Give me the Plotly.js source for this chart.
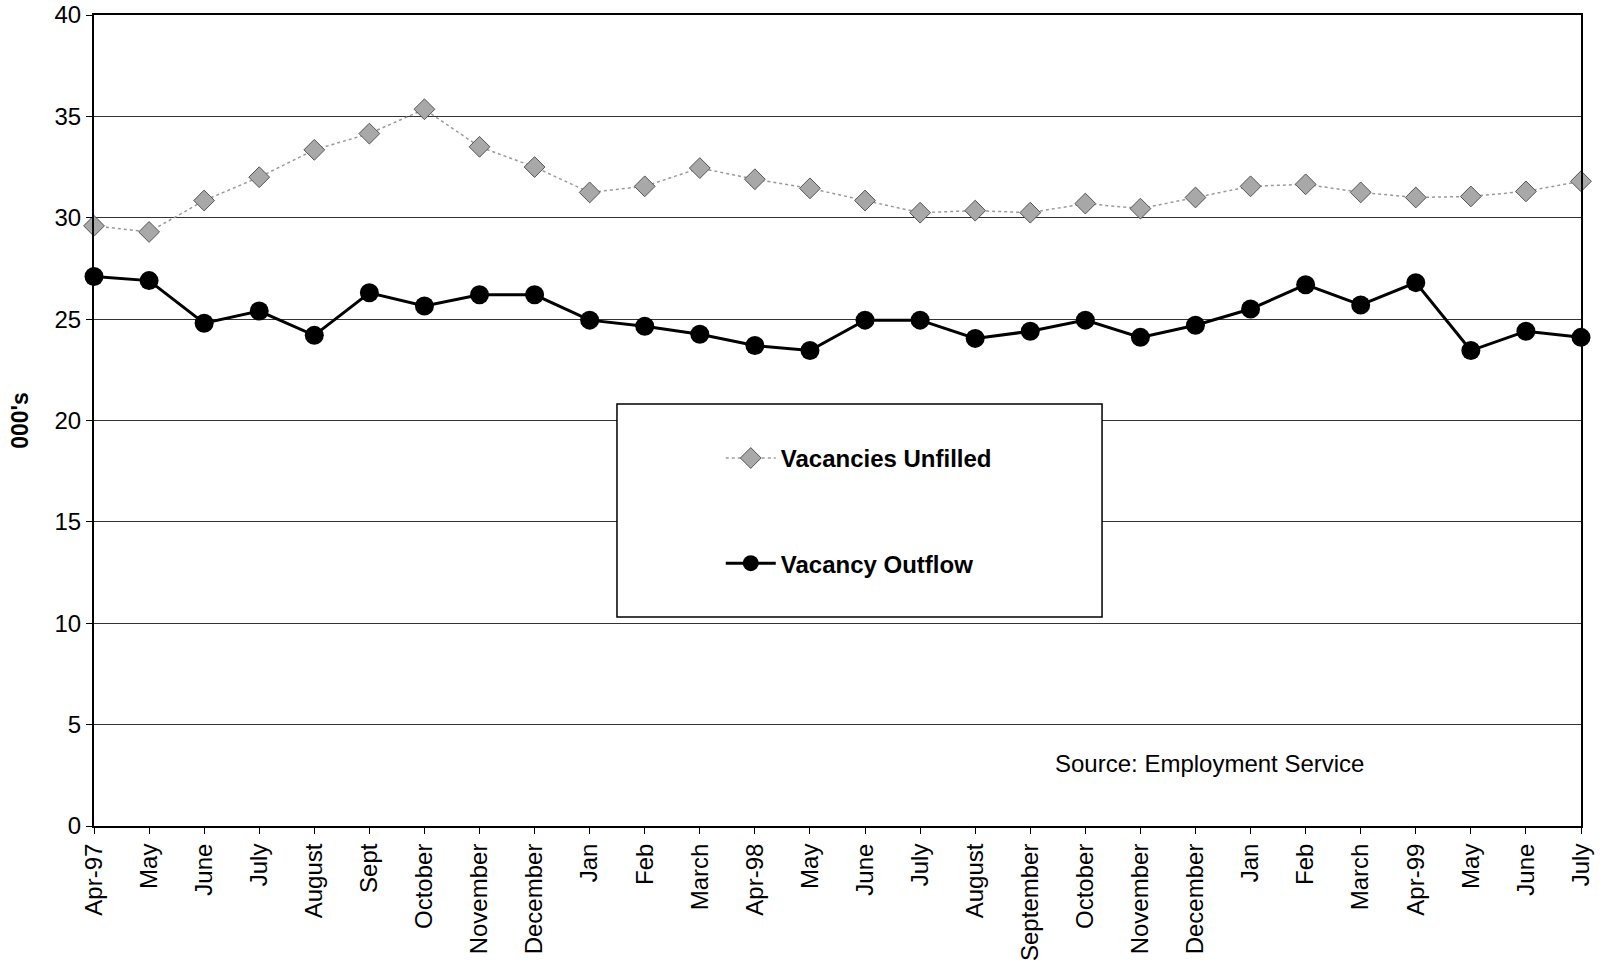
<!DOCTYPE html>
<html>
<head>
<meta charset="utf-8">
<script src="https://cdn.plot.ly/plotly-3.0.1.min.js"></script>
<style>
  html, body { margin: 0; padding: 0; background: #fff; }
  #chart { width: 1608px; height: 967px; }
</style>
</head>
<body>
<div id="chart"></div>
<script>
// Month labels (x axis), in order
const monthLabels = ["Apr-97","May","June","July","August","Sept","October","November","December",
  "Jan","Feb","March","Apr-98","May","June","July","August","September","October","November",
  "December","Jan","Feb","March","Apr-99","May","June","July"];

// Vacancies unfilled (000's)
const vacanciesUnfilled = [29.6, 29.3, 30.85, 32.0, 33.35, 34.15, 35.35, 33.5, 32.5, 31.25,
  31.55, 32.45, 31.9, 31.45, 30.85, 30.25, 30.35, 30.25, 30.7, 30.45,
  31.0, 31.55, 31.65, 31.25, 31.0, 31.05, 31.3, 31.8];

// Vacancy outflow (000's)
const vacancyOutflow = [27.1, 26.9, 24.8, 25.4, 24.2, 26.3, 25.65, 26.2, 26.2, 24.95,
  24.65, 24.25, 23.7, 23.45, 24.95, 24.95, 24.05, 24.4, 24.95, 24.1,
  24.7, 25.5, 26.7, 25.7, 26.8, 23.45, 24.4, 24.1];

const yTicks = [0, 5, 10, 15, 20, 25, 30, 35, 40];

const xIdx = monthLabels.map((_, i) => i);
const FONT = "Liberation Sans, Arial, sans-serif";

const traces = [
  {
    x: xIdx, y: vacanciesUnfilled, name: "Vacancies Unfilled",
    type: "scatter", mode: "lines+markers", cliponaxis: false,
    legendgroup: "a",
    line: { color: "#9a9a9a", width: 1.5, dash: "dot" },
    marker: { symbol: "diamond", size: 16, color: "#a8a8a8", line: { color: "#555", width: 1 } }
  },
  {
    x: xIdx, y: vacancyOutflow, name: "Vacancy Outflow",
    type: "scatter", mode: "lines+markers", cliponaxis: false,
    legendgroup: "b",
    line: { color: "#000", width: 3 },
    marker: { symbol: "circle", size: 19, color: "#000" }
  }
];

const layout = {
  width: 1608, height: 967,
  paper_bgcolor: "#fff", plot_bgcolor: "#fff",
  margin: { l: 94, r: 27, t: 15, b: 141 },
  font: { family: FONT, size: 24, color: "#000" },
  showlegend: true,
  legend: {
    x: 0.4215, y: 0.481, xanchor: "left", yanchor: "top",
    bgcolor: "rgba(0,0,0,0)", borderwidth: 0,
    font: { family: FONT, size: 24, color: "#000", weight: "bold" },
    traceorder: "grouped", tracegroupgap: 71, itemwidth: 50
  },
  xaxis: {
    range: [0, 27], tickmode: "array", tickvals: xIdx, ticktext: monthLabels,
    tickangle: -90, ticks: "outside", ticklen: 6, tickcolor: "#000",
    showline: true, linecolor: "#000", linewidth: 2, mirror: true,
    showgrid: false, zeroline: false, fixedrange: true,
    tickfont: { family: FONT, size: 24, color: "#000" }
  },
  yaxis: {
    range: [0, 40], tickmode: "array", tickvals: yTicks,
    ticks: "outside", ticklen: 6, tickcolor: "#000",
    showline: true, linecolor: "#000", linewidth: 2, mirror: true,
    showgrid: true, gridcolor: "#333", gridwidth: 1, zeroline: false,
    tickfont: { family: FONT, size: 24, color: "#000" },
    title: { text: "000's", standoff: 19, font: { family: FONT, size: 23, color: "#000", weight: "bold" } }
  },
  shapes: [
    { type: "rect", xref: "paper", yref: "paper", layer: "above",
      x0: 0.3517, x1: 0.6779, y0: 0.2577, y1: 0.5203,
      fillcolor: "#fff", line: { color: "#000", width: 1.5 } }
  ],
  annotations: [
    { xref: "paper", yref: "paper", x: 0.750, y: 0.077, xanchor: "center", yanchor: "middle",
      text: "Source: Employment Service", showarrow: false,
      font: { family: FONT, size: 24, color: "#000" } }
  ]
};

Plotly.newPlot("chart", traces, layout, { staticPlot: true, displayModeBar: false });
</script>
</body>
</html>
